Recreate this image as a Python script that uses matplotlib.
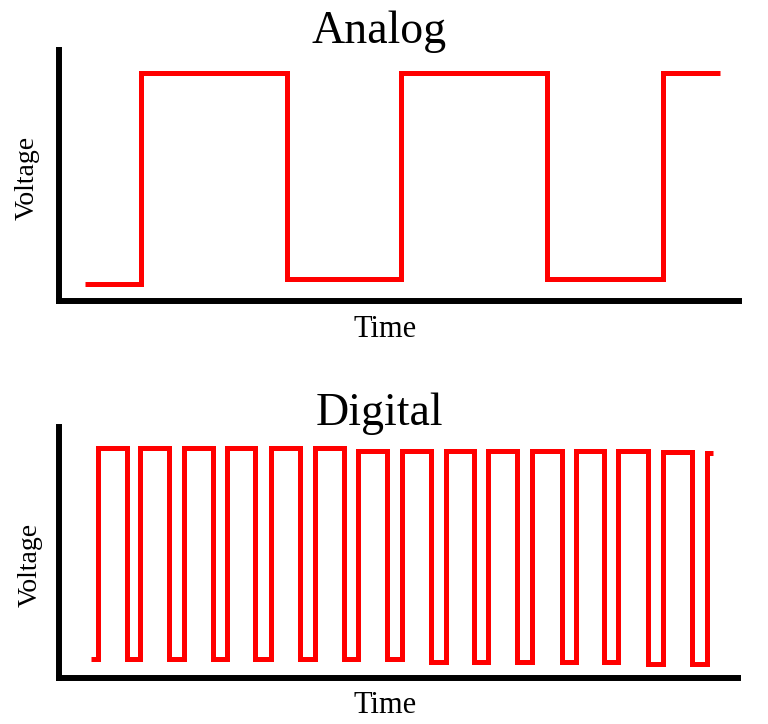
import numpy as np
import matplotlib
matplotlib.use("Agg")
import matplotlib.pyplot as plt

plt.rcParams['font.family'] = ['Liberation Serif', 'DejaVu Serif']

# Analog panel: switching times and voltage level after each switch
analog_times = [0.38, 1.21, 3.35, 5.03, 7.18, 8.88, 9.72]
analog_levels = [0.68, 9.08, 0.88, 9.08, 0.88, 9.08, 9.08]

# Digital panel: start, alternating rise/fall times, end
digital_times = [0.485, 0.574, 1.015, 1.206, 1.632, 1.853, 2.279, 2.485,
                 2.897, 3.132, 3.559, 3.779, 4.206, 4.412, 4.838, 5.059,
                 5.485, 5.706, 6.118, 6.324, 6.750, 6.971, 7.412, 7.618,
                 8.029, 8.235, 8.676, 8.897, 9.324, 9.544, 9.632]
digital_lows = [0.76] * 8 + [0.64] * 5 + [0.56] * 2
digital_highs = [9.16] * 6 + [9.04] * 7 + [9.0, 8.96]


def interleave(lows, highs):
    levels = []
    for lo, hi in zip(lows, highs):
        levels += [lo, hi]
    levels.append(highs[-1])
    return levels


def style_axes(ax):
    for side in ('top', 'right'):
        ax.spines[side].set_visible(False)
    for side in ('left', 'bottom'):
        ax.spines[side].set_linewidth(4.3)
        ax.spines[side].set_color('black')
        ax.spines[side].set_capstyle('projecting')
    ax.set_xticks([])
    ax.set_yticks([])
    ax.set_xlim(0, 10)
    ax.set_ylim(0, 10)


fig = plt.figure(figsize=(7.68, 7.24), dpi=100)

ax1 = fig.add_axes([59 / 768, 1 - 301 / 724, 680 / 768, 251 / 724])
ax2 = fig.add_axes([58.5 / 768, 1 - 678 / 724, 679.5 / 768, 251 / 724])

ax1.plot(analog_times, analog_levels, drawstyle='steps-post', color='red',
         lw=3.6, solid_joinstyle='miter', solid_capstyle='butt')
ax2.plot(digital_times, interleave(digital_lows, digital_highs),
         drawstyle='steps-post', color='red', lw=3.6,
         solid_joinstyle='miter', solid_capstyle='butt')

for ax in (ax1, ax2):
    style_axes(ax)

fig.text(379 / 768, 1 - 43 / 724, 'Analog', fontsize=33, ha='center', va='baseline')
fig.text(379 / 768, 1 - 425 / 724, 'Digital', fontsize=33, ha='center', va='baseline')
fig.text(385 / 768, 1 - 337 / 724, 'Time', fontsize=22, ha='center', va='baseline')
fig.text(385 / 768, 1 - 713 / 724, 'Time', fontsize=22, ha='center', va='baseline')
fig.text(27 / 768, 1 - 178 / 724, 'Voltage', fontsize=20, rotation=90,
         ha='center', va='center')
fig.text(30 / 768, 1 - 565 / 724, 'Voltage', fontsize=20, rotation=90,
         ha='center', va='center')

fig.savefig('out.png', dpi=100)
